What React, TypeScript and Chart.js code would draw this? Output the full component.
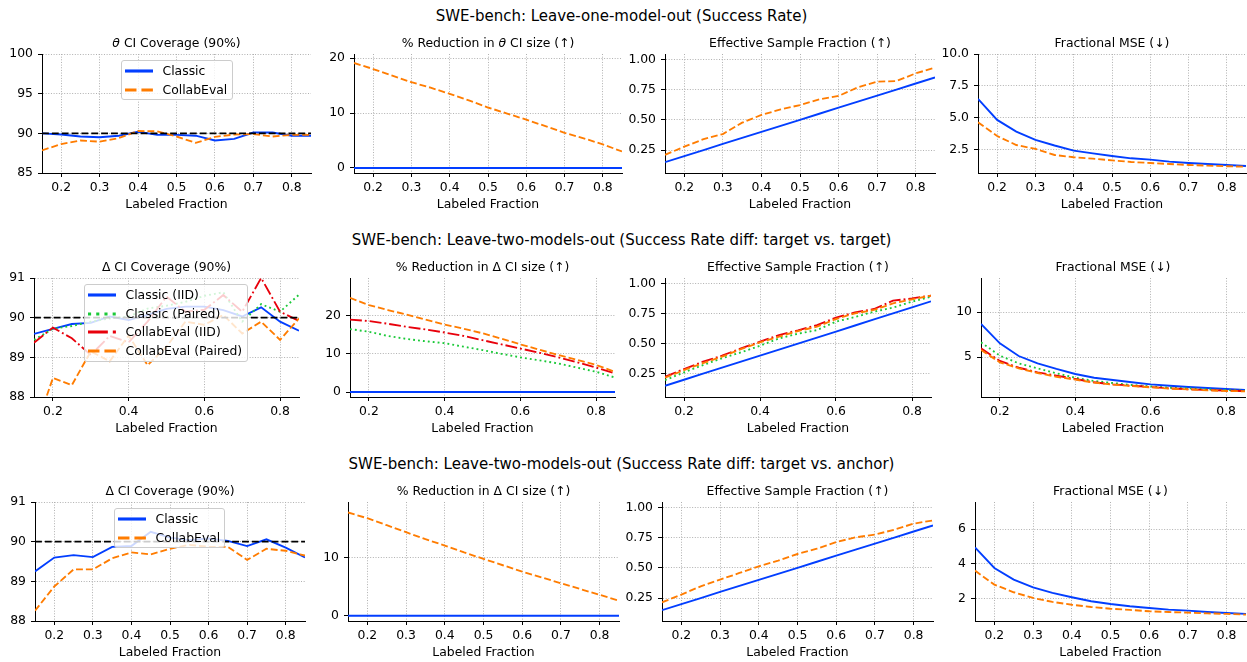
import React, { useEffect, useRef } from "react";
import { Chart, registerables } from "chart.js";

Chart.register(...registerables);

// ---------------- data ----------------
const LABELED_FRACTION = [0.15, 0.2, 0.25, 0.3, 0.35, 0.4, 0.45, 0.5, 0.55, 0.6, 0.65, 0.7, 0.75, 0.8, 0.85];
const TARGET_COVERAGE = 90;

// Row 1: leave-one-model-out (success rate)
const oneOutCovClassic = [90.0, 89.85, 89.6, 89.5, 89.7, 90.2, 89.8, 89.8, 89.7, 89.1, 89.3, 90.1, 90.1, 89.7, 89.7];
const oneOutCovCollab = [87.85, 88.65, 89.1, 88.95, 89.4, 90.3, 90.25, 89.6, 88.8, 89.55, 89.85, 89.9, 89.6, 89.8, 89.8];
const oneOutRedClassic = [0, 0, 0, 0, 0, 0, 0, 0, 0, 0, 0, 0, 0, 0, 0];
const oneOutRedCollab = [19.1, 18.0, 16.8, 15.6, 14.6, 13.5, 12.3, 11.0, 9.9, 8.8, 7.6, 6.4, 5.4, 4.3, 3.0];
const oneOutEsfClassic = [0.15, 0.2, 0.25, 0.3, 0.35, 0.4, 0.45, 0.5, 0.55, 0.6, 0.65, 0.7, 0.75, 0.8, 0.85];
const oneOutEsfCollab = [0.21, 0.278, 0.34, 0.382, 0.476, 0.54, 0.586, 0.622, 0.669, 0.697, 0.768, 0.815, 0.82, 0.884, 0.931];
const oneOutMseClassic = [6.47, 4.82, 3.9, 3.24, 2.8, 2.4, 2.18, 1.97, 1.79, 1.68, 1.53, 1.42, 1.34, 1.26, 1.18];
const oneOutMseCollab = [4.63, 3.55, 2.84, 2.53, 2.05, 1.87, 1.76, 1.63, 1.5, 1.42, 1.34, 1.26, 1.21, 1.16, 1.13];

// Row 2: leave-two-models-out (target vs. target)
const ttCovClassicIID = [89.59, 89.72, 89.84, 89.87, 90.03, 89.94, 90.07, 90.22, 90.28, 90.28, 90.19, 90.03, 90.26, 89.9, 89.67];
const ttCovClassicPaired = [89.44, 89.72, 89.79, 89.9, 89.98, 90.03, 90.23, 90.3, 90.4, 90.55, 90.64, 89.9, 90.34, 90.15, 90.58];
const ttCovCollabIID = [89.37, 89.75, 89.48, 89.06, 89.54, 89.38, 89.9, 90.53, 90.15, 90.2, 90.57, 90.15, 91.0, 90.15, 89.92];
const ttCovCollabPaired = [87.1, 88.48, 88.3, 89.15, 88.9, 89.55, 88.8, 89.27, 89.9, 89.82, 90.07, 89.6, 89.9, 89.44, 89.98];
const ttRedClassicIID = [0, 0, 0, 0, 0, 0, 0, 0, 0, 0, 0, 0, 0, 0, 0];
const ttRedClassicPaired = [16.5, 15.8, 14.7, 13.9, 13.3, 12.8, 11.9, 11.0, 10.0, 9.1, 8.3, 7.5, 6.4, 5.3, 3.8];
const ttRedCollabIID = [19.0, 18.6, 17.9, 17.1, 16.4, 15.6, 14.7, 13.6, 12.5, 11.4, 10.3, 9.1, 7.8, 6.4, 4.9];
const ttRedCollabPaired = [24.7, 22.8, 21.5, 20.3, 19.0, 17.7, 16.6, 15.4, 14.0, 12.5, 11.1, 9.7, 8.4, 7.1, 5.3];
const ttEsfClassicIID = [0.15, 0.2, 0.25, 0.3, 0.35, 0.4, 0.45, 0.5, 0.55, 0.6, 0.65, 0.7, 0.75, 0.8, 0.85];
const ttEsfClassicPaired = [0.197, 0.261, 0.322, 0.378, 0.427, 0.482, 0.543, 0.582, 0.612, 0.682, 0.72, 0.765, 0.798, 0.848, 0.889];
const ttEsfCollabIID = [0.225, 0.289, 0.35, 0.4, 0.46, 0.516, 0.571, 0.61, 0.654, 0.715, 0.759, 0.787, 0.856, 0.875, 0.898];
const ttEsfCollabPaired = [0.217, 0.28, 0.338, 0.391, 0.454, 0.51, 0.557, 0.604, 0.64, 0.704, 0.751, 0.779, 0.834, 0.867, 0.898];
const ttMseClassicIID = [8.67, 6.52, 5.11, 4.3, 3.67, 3.11, 2.7, 2.44, 2.19, 1.96, 1.81, 1.67, 1.56, 1.44, 1.33];
const ttMseClassicPaired = [6.63, 5.15, 4.3, 3.74, 3.19, 2.7, 2.33, 2.11, 1.89, 1.74, 1.59, 1.52, 1.41, 1.33, 1.26];
const ttMseCollabIID = [5.96, 4.56, 3.81, 3.3, 2.93, 2.56, 2.19, 1.96, 1.81, 1.67, 1.52, 1.41, 1.33, 1.26, 1.22];
const ttMseCollabPaired = [5.78, 4.41, 3.74, 3.22, 2.81, 2.48, 2.15, 1.93, 1.78, 1.63, 1.48, 1.41, 1.3, 1.22, 1.19];

// Row 3: leave-two-models-out (target vs. anchor)
const taCovClassic = [89.25, 89.6, 89.66, 89.61, 89.87, 89.89, 90.25, 90.1, 90.04, 90.08, 90.02, 89.89, 90.06, 89.85, 89.6];
const taCovCollab = [88.26, 88.87, 89.3, 89.3, 89.58, 89.73, 89.68, 89.82, 89.92, 89.87, 89.87, 89.54, 89.82, 89.77, 89.65];
const taRedClassic = [0, 0, 0, 0, 0, 0, 0, 0, 0, 0, 0, 0, 0, 0, 0];
const taRedCollab = [17.8, 16.8, 15.6, 14.4, 13.2, 12.1, 10.9, 9.8, 8.7, 7.6, 6.6, 5.6, 4.6, 3.6, 2.6];
const taEsfClassic = [0.15, 0.2, 0.25, 0.3, 0.35, 0.4, 0.45, 0.5, 0.55, 0.6, 0.65, 0.7, 0.75, 0.8, 0.85];
const taEsfCollab = [0.214, 0.278, 0.347, 0.402, 0.457, 0.512, 0.559, 0.614, 0.658, 0.713, 0.752, 0.774, 0.815, 0.865, 0.892];
const taMseClassic = [4.94, 3.75, 3.08, 2.63, 2.31, 2.06, 1.83, 1.67, 1.54, 1.44, 1.35, 1.29, 1.21, 1.15, 1.1];
const taMseCollab = [3.6, 2.79, 2.35, 2.02, 1.79, 1.63, 1.5, 1.4, 1.33, 1.25, 1.21, 1.17, 1.13, 1.1, 1.06];

// tick labels
const X_TICKS_FINE = [0.2, 0.3, 0.4, 0.5, 0.6, 0.7, 0.8];
const X_TICKS_COARSE = [0.2, 0.4, 0.6, 0.8];
const COV_THETA_TICKS = [85, 90, 95, 100];
const COV_DELTA_TICKS = [88, 89, 90, 91];
const RED_TICKS_A = [0, 10, 20];
const RED_TICKS_B = [0, 10];
const ESF_TICKS = [0.25, 0.5, 0.75, 1.0];
const MSE_TICKS_A = [2.5, 5.0, 7.5, 10.0];
const MSE_TICKS_B = [5, 10];
const MSE_TICKS_C = [2, 4, 6];

const SUPTITLES = [
  "SWE-bench: Leave-one-model-out (Success Rate)",
  "SWE-bench: Leave-two-models-out (Success Rate diff: target vs. target)",
  "SWE-bench: Leave-two-models-out (Success Rate diff: target vs. anchor)",
];

// ---------------- styling ----------------
const FONT = "'DejaVu Sans', sans-serif";
const FS = 12.4;
const YW = 44;
const PT = 16;
const PR = 12;
const XH = 39;
const LW = 1.86;
const LEG_LW = 3.1;
const GRID_COLOR = "#b0b0b0";
const GRID_DASH = [1, 1.65];

const STYLES: Record<string, { color: string; dash: number[] }> = {
  classic: { color: "#023eff", dash: [] },
  collab: { color: "#ff7c00", dash: [3.7, 1.6] },
  classicPaired: { color: "#1ac938", dash: [1, 1.65] },
  collabIID: { color: "#e8000b", dash: [6.4, 1.6, 1, 1.6] },
  collabPaired: { color: "#ff7c00", dash: [3.7, 1.6] },
  target: { color: "#000000", dash: [3.7, 1.6] },
};

type Series = { style: string; label: string; values: number[] };
type Panel = {
  box: [number, number, number, number];
  title: React.ReactNode;
  yRange: [number, number];
  yTicks: number[];
  yDec: number;
  xTicks: number[];
  series: Series[];
  target?: boolean;
  legend?: { left: number; top: number; width: number };
};

const th = <span style={{ fontStyle: "italic" }}>θ</span>;

const two = (a: number[], b: number[]): Series[] => [
  { style: "classic", label: "Classic", values: a },
  { style: "collab", label: "CollabEval", values: b },
];
const four = (a: number[], b: number[], c: number[], d: number[]): Series[] => [
  { style: "classic", label: "Classic (IID)", values: a },
  { style: "classicPaired", label: "Classic (Paired)", values: b },
  { style: "collabIID", label: "CollabEval (IID)", values: c },
  { style: "collabPaired", label: "CollabEval (Paired)", values: d },
];

const PANELS: Panel[] = [
  // row 1
  { box: [42, 54, 311, 173], title: <>{th} CI Coverage (90%)</>, yRange: [85, 100], yTicks: COV_THETA_TICKS, yDec: 0, xTicks: X_TICKS_FINE, series: two(oneOutCovClassic, oneOutCovCollab), target: true, legend: { left: 121, top: 60, width: 112 } },
  { box: [354, 54, 622, 173], title: <>% Reduction in {th} CI size (↑)</>, yRange: [-0.91, 20.73], yTicks: RED_TICKS_A, yDec: 0, xTicks: X_TICKS_FINE, series: two(oneOutRedClassic, oneOutRedCollab) },
  { box: [665, 54, 935, 173], title: "Effective Sample Fraction (↑)", yRange: [0.06, 1.044], yTicks: ESF_TICKS, yDec: 2, xTicks: X_TICKS_FINE, series: two(oneOutEsfClassic, oneOutEsfCollab) },
  { box: [978, 54, 1246, 173], title: "Fractional MSE (↓)", yRange: [0.63, 10.02], yTicks: MSE_TICKS_A, yDec: 1, xTicks: X_TICKS_FINE, series: two(oneOutMseClassic, oneOutMseCollab) },
  // row 2
  { box: [34, 278, 299, 397], title: "Δ CI Coverage (90%)", yRange: [88, 91], yTicks: COV_DELTA_TICKS, yDec: 0, xTicks: X_TICKS_COARSE, series: four(ttCovClassicIID, ttCovClassicPaired, ttCovCollabIID, ttCovCollabPaired), target: true, legend: { left: 84, top: 284, width: 164 } },
  { box: [350, 278, 615, 397], title: "% Reduction in Δ CI size (↑)", yRange: [-1.31, 29.9], yTicks: RED_TICKS_A, yDec: 0, xTicks: X_TICKS_COARSE, series: four(ttRedClassicIID, ttRedClassicPaired, ttRedCollabIID, ttRedCollabPaired) },
  { box: [665, 278, 931, 397], title: "Effective Sample Fraction (↑)", yRange: [0.057, 1.044], yTicks: ESF_TICKS, yDec: 2, xTicks: X_TICKS_COARSE, series: four(ttEsfClassicIID, ttEsfClassicPaired, ttEsfCollabIID, ttEsfCollabPaired) },
  { box: [981, 278, 1245, 397], title: "Fractional MSE (↓)", yRange: [0.556, 13.78], yTicks: MSE_TICKS_B, yDec: 0, xTicks: X_TICKS_COARSE, series: four(ttMseClassicIID, ttMseClassicPaired, ttMseCollabIID, ttMseCollabPaired) },
  // row 3
  { box: [35, 502, 305, 621], title: "Δ CI Coverage (90%)", yRange: [88, 91], yTicks: COV_DELTA_TICKS, yDec: 0, xTicks: X_TICKS_FINE, series: two(taCovClassic, taCovCollab), target: true, legend: { left: 114, top: 508, width: 111 } },
  { box: [348, 502, 619, 621], title: "% Reduction in Δ CI size (↑)", yRange: [-0.91, 19.6], yTicks: RED_TICKS_B, yDec: 0, xTicks: X_TICKS_FINE, series: two(taRedClassic, taRedCollab) },
  { box: [662, 502, 933, 621], title: "Effective Sample Fraction (↑)", yRange: [0.06, 1.044], yTicks: ESF_TICKS, yDec: 2, xTicks: X_TICKS_FINE, series: two(taEsfClassic, taEsfCollab) },
  { box: [975, 502, 1246, 621], title: "Fractional MSE (↓)", yRange: [0.69, 7.56], yTicks: MSE_TICKS_C, yDec: 0, xTicks: X_TICKS_FINE, series: two(taMseClassic, taMseCollab) },
];

const SUPTITLE_Y = [16, 240, 464];

function LinePanel({ panel }: { panel: Panel }) {
  const ref = useRef<HTMLCanvasElement | null>(null);
  const [l, t, r, b] = panel.box;
  const w = YW + (r - l) + PR;
  const h = PT + (b - t) + XH;

  useEffect(() => {
    if (!ref.current) return;
    const n = panel.series.length;
    const datasets: any[] = panel.series.map((s, i) => {
      const st = STYLES[s.style];
      return {
        label: s.label,
        data: LABELED_FRACTION.map((x, j) => ({ x, y: s.values[j] })),
        borderColor: st.color,
        backgroundColor: st.color,
        borderWidth: LW,
        borderDash: st.dash.map((d) => d * LW),
        borderCapStyle: "butt",
        pointRadius: 0,
        pointHoverRadius: 0,
        tension: 0,
        fill: false,
        order: n - i + 1,
      };
    });
    if (panel.target) {
      const xs = [LABELED_FRACTION[0], LABELED_FRACTION[LABELED_FRACTION.length - 1]];
      datasets.push({
        label: "target",
        data: xs.map((x) => ({ x, y: TARGET_COVERAGE })),
        borderColor: STYLES.target.color,
        borderWidth: LW,
        borderDash: STYLES.target.dash.map((d) => d * LW),
        pointRadius: 0,
        pointHoverRadius: 0,
        fill: false,
        order: 0,
      });
    }
    const font = { family: FONT, size: FS, lineHeight: 1.2 };
    const chart = new Chart(ref.current, {
      type: "line",
      data: { datasets },
      options: {
        animation: false,
        responsive: false,
        maintainAspectRatio: false,
        devicePixelRatio: 1,
        events: [],
        layout: { padding: { top: PT, right: PR, bottom: 0, left: 0 } },
        plugins: { legend: { display: false }, tooltip: { enabled: false }, title: { display: false } },
        scales: {
          x: {
            type: "linear",
            min: LABELED_FRACTION[0],
            max: LABELED_FRACTION[LABELED_FRACTION.length - 1],
            bounds: "data",
            afterBuildTicks: (s: any) => {
              s.ticks = panel.xTicks.map((v) => ({ value: v }));
            },
            afterFit: (s: any) => {
              s.height = XH;
            },
            ticks: {
              color: "#000",
              font,
              padding: 3,
              autoSkip: false,
              maxRotation: 0,
              minRotation: 0,
              callback: (v: any) => Number(v).toFixed(1),
            },
            grid: { color: GRID_COLOR, lineWidth: 1, drawTicks: true, tickLength: 4, tickColor: "#000", tickWidth: 1, tickBorderDash: [] },
            border: { display: true, color: "#000", width: 1, dash: GRID_DASH },
            title: { display: true, text: "Labeled Fraction", color: "#000", font, padding: 0 },
          },
          y: {
            type: "linear",
            min: panel.yRange[0],
            max: panel.yRange[1],
            bounds: "data",
            afterBuildTicks: (s: any) => {
              s.ticks = panel.yTicks.map((v) => ({ value: v }));
            },
            afterFit: (s: any) => {
              s.width = YW;
            },
            ticks: {
              color: "#000",
              font,
              padding: 5,
              autoSkip: false,
              callback: (v: any) => Number(v).toFixed(panel.yDec),
            },
            grid: { color: GRID_COLOR, lineWidth: 1, drawTicks: true, tickLength: 4, tickColor: "#000", tickWidth: 1, tickBorderDash: [] },
            border: { display: true, color: "#000", width: 1, dash: GRID_DASH },
          },
        },
      } as any,
    });
    return () => chart.destroy();
  }, [panel]);

  return (
    <canvas
      ref={ref}
      width={w}
      height={h}
      style={{ position: "absolute", left: l - YW, top: t - PT, width: w, height: h }}
    />
  );
}

function Legend({ panel }: { panel: Panel }) {
  if (!panel.legend) return null;
  const { left, top, width } = panel.legend;
  const n = panel.series.length;
  const height = 21.5 + 18.7 * (n - 1);
  return (
    <div
      style={{
        position: "absolute",
        left,
        top,
        width,
        height,
        boxSizing: "border-box",
        border: "1px solid #cccccc",
        borderRadius: 3,
        background: "rgba(255,255,255,0.8)",
      }}
    >
      {panel.series.map((s, i) => {
        const st = STYLES[s.style];
        const cy = 10 + 18.7 * i;
        return (
          <React.Fragment key={s.label}>
            <svg width={28} height={8} style={{ position: "absolute", left: 3, top: cy - 4 }}>
              <line
                x1={0}
                y1={4}
                x2={28}
                y2={4}
                stroke={st.color}
                strokeWidth={LEG_LW}
                strokeDasharray={st.dash.length ? st.dash.map((d) => d * LEG_LW).join(",") : undefined}
              />
            </svg>
            <div
              style={{
                position: "absolute",
                left: 40.5,
                top: cy - 8,
                lineHeight: "16px",
                fontSize: FS,
                fontFamily: FONT,
                color: "#000",
                whiteSpace: "nowrap",
              }}
            >
              {s.label}
            </div>
          </React.Fragment>
        );
      })}
    </div>
  );
}

export default function App() {
  return (
    <div
      style={{
        position: "fixed",
        left: 0,
        top: 0,
        width: 1247,
        height: 662,
        overflow: "hidden",
        background: "#fff",
        fontFamily: FONT,
      }}
    >
      {PANELS.map((p, i) => (
        <LinePanel key={`c${i}`} panel={p} />
      ))}
      {SUPTITLES.map((s, i) => (
        <div
          key={`s${i}`}
          style={{
            position: "absolute",
            left: 0,
            width: 1243,
            top: SUPTITLE_Y[i] - 9.7,
            lineHeight: "20px",
            fontSize: 15,
            textAlign: "center",
            color: "#000",
            whiteSpace: "nowrap",
          }}
        >
          {s}
        </div>
      ))}
      {PANELS.map((p, i) => (
        <div
          key={`t${i}`}
          style={{
            position: "absolute",
            left: p.box[0],
            width: p.box[2] - p.box[0],
            top: p.box[1] - 19,
            lineHeight: "16px",
            fontSize: FS,
            textAlign: "center",
            color: "#000",
            whiteSpace: "nowrap",
          }}
        >
          {p.title}
        </div>
      ))}
      {PANELS.map((p, i) => (
        <Legend key={`l${i}`} panel={p} />
      ))}
    </div>
  );
}
